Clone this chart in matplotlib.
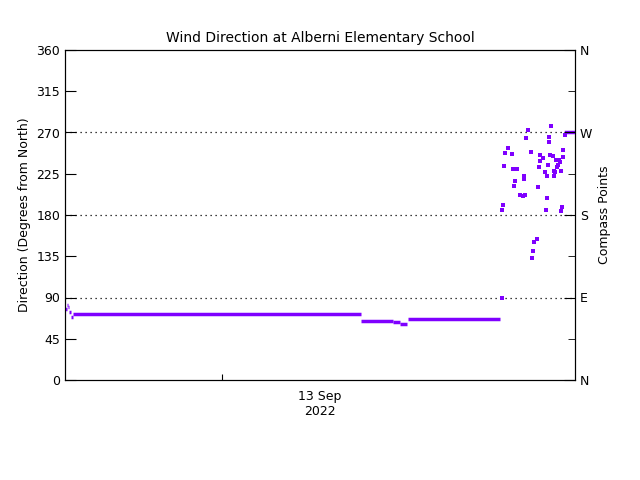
import numpy as np
import matplotlib.pyplot as plt

# hours from left edge of axis; 196 px per day on the original plot
PX_PER_HOUR = 196 / 24.0

# level segments: start hour, end hour, direction in degrees
seg_start = [0.0, 0.25, 0.4, 0.5, 0.75, 1.0, 36.2, 40.2, 41.0, 42.0]
seg_end = [0.25, 0.4, 0.5, 0.75, 1.0, 36.2, 40.2, 41.0, 41.9, 53.3]
seg_dir = [78, 82, 80, 74.5, 69, 72.3, 64.4, 63, 61, 66.5]

# scattered points after the wind changed
scat_x = [528, 551, 526, 549, 549, 508, 505, 512, 531, 540, 543, 550, 553, 563,
          563, 559, 556, 540, 504, 539, 548, 558, 560, 557, 513, 517, 554, 561,
          545, 555, 524, 547, 554, 524, 515, 514, 538, 520, 523, 525, 547, 503,
          562, 502, 546, 561, 537, 534, 533, 532, 502, 565]
scat_d = [273, 277, 264, 265, 260, 253, 248, 247, 249, 245, 242, 245, 244, 251,
          243, 240, 240, 239, 233, 232, 235, 235, 238, 232, 230, 230, 228, 228,
          227, 227, 222, 222, 222, 219, 217, 212, 211, 202, 201, 202, 199, 191,
          189, 185, 185, 184, 154, 151, 141, 133, 89, 267]
scat_t = [(x - 65) / PX_PER_HOUR for x in scat_x]

tail_t = [(566 - 65) / PX_PER_HOUR, 510 / PX_PER_HOUR]
tail_d = [270, 270]

purple = '#7f00ff'
fig = plt.figure(figsize=(6.4, 4.8), dpi=100)
ax = fig.add_axes([65 / 640, 100 / 480, 510 / 640, 330 / 480])

for g in [90, 180, 270]:
    ax.axhline(g, color='black', ls=(0, (1, 3)), lw=0.9, zorder=1)

ax.hlines(seg_dir, seg_start, seg_end, color=purple, lw=2.5, zorder=3)
ax.scatter(scat_t, scat_d, s=5, marker='s', color=purple, linewidths=0, zorder=3)
ax.plot(tail_t, tail_d, color=purple, lw=2.5, zorder=3)

ax.set_xlim(0, 510 / PX_PER_HOUR)
ax.set_ylim(0, 360)
ax.set_yticks(np.arange(0, 361, 45))
ax.set_xticks([(222 - 65) / PX_PER_HOUR])
ax.set_xticklabels([''])
ax.text((320 - 65) / 510, -0.03, '13 Sep\n2022', transform=ax.transAxes,
        ha='center', va='top', fontsize=9)
ax.set_ylabel('Direction (Degrees from North)', fontsize=9)
ax.set_title('Wind Direction at Alberni Elementary School', fontsize=10)
ax.tick_params(labelsize=9, direction='in', length=8)
ax.tick_params(axis='x', length=4)

ax2 = ax.twinx()
ax2.set_ylim(0, 360)
ax2.set_yticks([0, 90, 180, 270, 360])
ax2.set_yticklabels(['N', 'E', 'S', 'W', 'N'])
ax2.set_yticks([45, 135, 225, 315], minor=True)
ax2.tick_params(labelsize=9, direction='in', length=8)
ax2.tick_params(which='minor', direction='in', length=5)
ax2.set_ylabel('Compass Points', fontsize=9)

plt.savefig('out.png', dpi=100)
